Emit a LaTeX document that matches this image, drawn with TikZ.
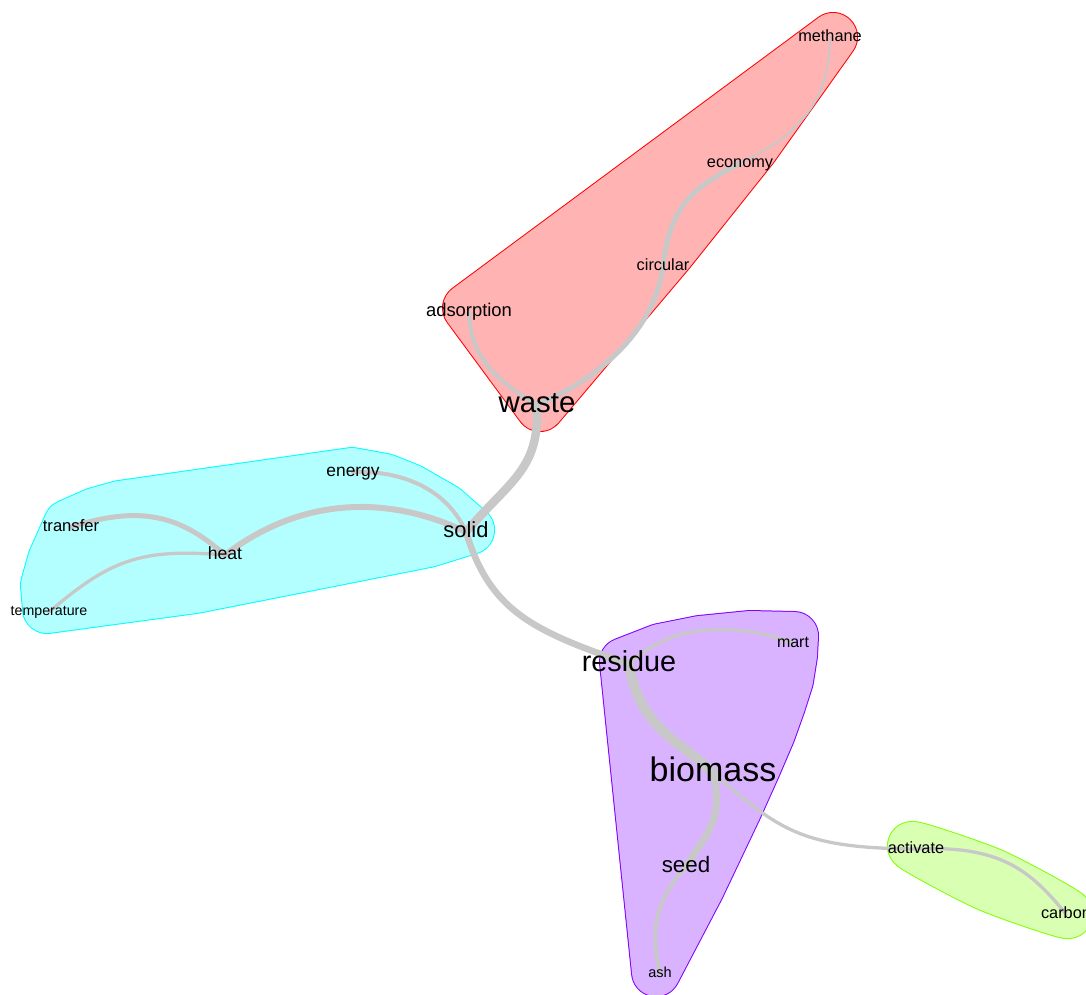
\documentclass[tikz,border=0pt]{standalone}
\usepackage{fontspec}
\setmainfont{Liberation Sans}

% community colours: border and 30% tint on white
\definecolor{bRed}{RGB}{255,0,0}
\definecolor{bGreen}{RGB}{128,255,0}
\definecolor{bCyan}{RGB}{0,255,255}
\definecolor{bPurple}{RGB}{128,0,255}
\definecolor{fRed}{RGB}{255,179,179}
\definecolor{fGreen}{RGB}{217,255,179}
\definecolor{fCyan}{RGB}{179,255,255}
\definecolor{fPurple}{RGB}{217,179,255}
\definecolor{eGray}{RGB}{200,200,200}

\pgfdeclarelayer{hulls}
\pgfdeclarelayer{edges}
\pgfsetlayers{hulls,edges,main}

\tikzset{
  lbl/.code={\pgfmathsetmacro\lblh{0.52*#1}%
    \pgfkeysalso{inner sep=0pt, text depth=0pt, text height=\lblh pt,
      font=\fontsize{#1}{#1}\selectfont, text=black}},
  wire/.style={draw=eGray, line width=#1, line cap=round},
  % a group hull: core outline grown by a round pen of radius 24
  hull/.style={draw=f#1, fill=f#1, line width=48pt, line join=round,
    preaction={draw=b#1, line width=50pt, line join=round}},
  core/.style={smooth cycle, tension=0.45},
}

\begin{document}
\begin{tikzpicture}[x=1pt,y=-1pt]
\useasboundingbox (0,0) rectangle (1086,994);
\clip (0,0) rectangle (1086,994);

% community hulls
\begin{pgfonlayer}{hulls}
\path[hull=Red] (833,37) -- (754,148) -- (671,252) -- (540,407)
  -- (467,308) -- cycle;
\path[hull=Cyan] (68,524) -- (95,512) -- (120,505) -- (352,472)
  -- (385,478) -- (410,488) -- (445,508) -- (470,530) -- (428,543)
  -- (195,589) -- (47,609) -- (45,585) -- (52,560) -- cycle;
\path[hull=Purple] (624,662) -- (660,648) -- (700,640) -- (750,635)
  -- (794,636) -- (793,655) -- (789,680) -- (781,705) -- (771,733)
  -- (756,768) -- (738,808) -- (700,888) -- (656,972) -- cycle;
\path[hull=Green] plot[core] coordinates {(912,846) (993,873) (1068,914)
  (988,887)};
\end{pgfonlayer}

% terms
\node[lbl=29.4] (waste)       at (537,405) {waste};
\node[lbl=18.4] (adsorption)  at (469,312) {adsorption};
\node[lbl=16.3] (circular)    at (663,266) {circular};
\node[lbl=16.3] (economy)     at (740,163) {economy};
\node[lbl=16.3] (methane)     at (830,37)  {methane};
\node[lbl=17.4] (energy)      at (353,472) {energy};
\node[lbl=21.9] (solid)       at (466,532) {solid};
\node[lbl=16.6] (transfer)    at (71,527)  {transfer};
\node[lbl=17.6] (heat)        at (225,555) {heat};
\node[lbl=14.2] (temperature) at (49,612)  {temperature};
\node[lbl=28.8] (residue)     at (629,664) {residue};
\node[lbl=16.0] (mart)        at (793,643) {mart};
\node[lbl=34.0] (biomass)     at (713,773) {biomass};
\node[lbl=22.3] (seed)        at (686,867) {seed};
\node[lbl=14.5] (ash)         at (660,974) {ash};
\node[lbl=16.3] (activate)    at (916,849) {activate};
\node[lbl=16.3] (carbon)      at (1066,914) {carbon};

% co-occurrence links
\begin{pgfonlayer}{edges}
\draw[wire=8.5pt] (waste.center) .. controls (540,470) and (510,480) .. (solid.center);
\draw[wire=4pt] (adsorption.center) .. controls (470,360) and (500,382) .. (waste.center);
\draw[wire=5pt] (waste.center) .. controls (600,378) and (655,330) .. (circular.center);
\draw[wire=5pt] (circular.center) .. controls (670,200) and (700,185) .. (economy.center);
\draw[wire=2pt] (economy.center) .. controls (800,135) and (830,100) .. (methane.center);
\draw[wire=4pt] (energy.center) .. controls (410,470) and (450,495) .. (solid.center);
\draw[wire=6pt] (solid.center) .. controls (400,500) and (310,490) .. (heat.center);
\draw[wire=5pt] (heat.center) .. controls (180,515) and (140,505) .. (transfer.center);
\draw[wire=3.3pt] (heat.center) .. controls (140,548) and (110,560) .. (temperature.center);
\draw[wire=6.5pt] (solid.center) .. controls (490,610) and (530,630) .. (residue.center);
\draw[wire=3.3pt] (residue.center) .. controls (670,625) and (730,620) .. (mart.center);
\draw[wire=10pt] (residue.center) .. controls (640,730) and (680,740) .. (biomass.center);
\draw[wire=7pt] (biomass.center) .. controls (725,820) and (705,835) .. (seed.center);
\draw[wire=4pt] (seed.center) .. controls (650,905) and (652,940) .. (ash.center);
\draw[wire=3.3pt] (biomass.center) .. controls (780,830) and (800,848) .. (activate.center);
\draw[wire=3.3pt] (activate.center) .. controls (1000,845) and (1030,870) .. (carbon.center);
\end{pgfonlayer}
\end{tikzpicture}
\end{document}
